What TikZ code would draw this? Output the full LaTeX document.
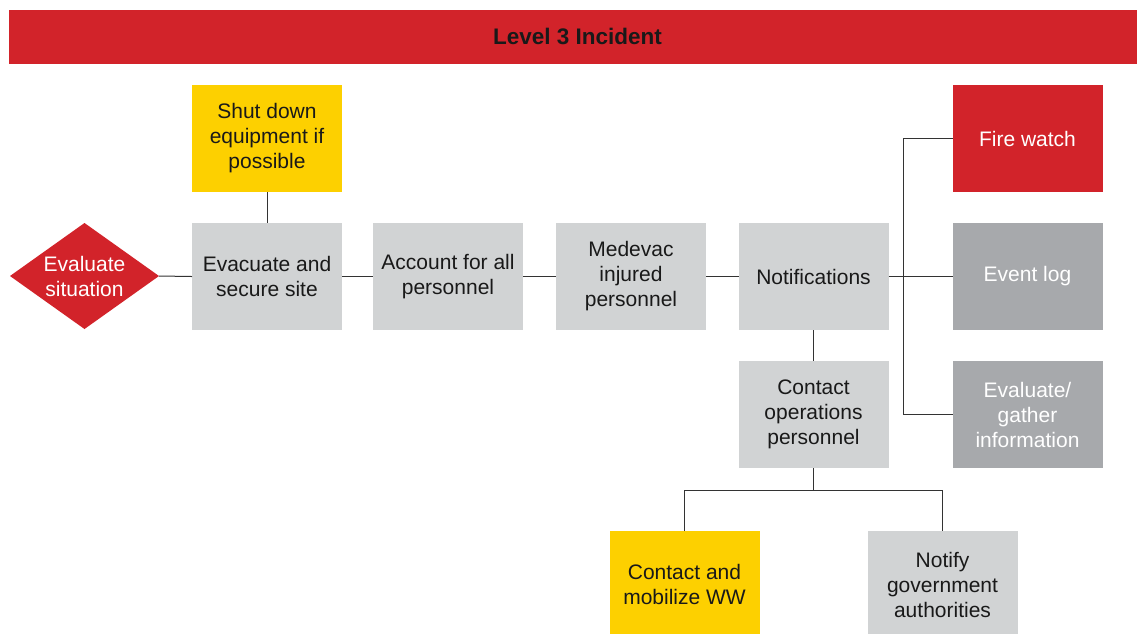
\documentclass[tikz,border=0pt]{standalone}
\usepackage{fontspec}
\setmainfont{Liberation Sans}
\usetikzlibrary{shapes.geometric}
\definecolor{incred}{RGB}{210,35,42}
\definecolor{incyellow}{RGB}{253,208,0}
\definecolor{lightbox}{RGB}{209,211,212}
\definecolor{darkbox}{RGB}{167,169,172}
\tikzset{
  stepbox/.style={rectangle, minimum width=150pt, minimum height=107pt, inner sep=0pt,
    outer sep=0pt, align=center, font=\fontsize{21}{25}\selectfont, text=black!90},
  graybox/.style={stepbox, fill=lightbox},
  yellowbox/.style={stepbox, fill=incyellow},
  redbox/.style={stepbox, fill=incred, text=white},
  darkgraybox/.style={stepbox, fill=darkbox, text=white},
  link/.style={draw=black!80, line width=1pt},
}
\begin{document}
\begin{tikzpicture}[x=1pt, y=-1pt]
\useasboundingbox (0,0) rectangle (1137,633);
\fill[white] (0,0) rectangle (1137,633);

% heading bar
\node[fill=incred, minimum width=1128pt, minimum height=54pt, inner sep=0pt] (title) at (573,37) {};
\node[font=\fontsize{22.5}{26}\selectfont\bfseries, text=black!90] (titletext) at (577.5,36) {Level 3 Incident};

% decision
\node[diamond, fill=incred, minimum width=149pt, minimum height=106pt, inner sep=0pt, outer sep=0pt] (eval) at (84.5,276) {};
\node[align=center, font=\fontsize{21}{25}\selectfont, text=white] (evaltext) at (eval.center) {Evaluate\\situation};

% main sequence
\node[yellowbox] (shut) at (267,138.5) {Shut down\\equipment if\\possible};
\node[graybox] (evac) at (267,276.5) {Evacuate and\\secure site};
\node[graybox] (acct) at (448,276.5) {Account for all\\personnel};
\node[graybox] (med) at (631,276.5) {Medevac\\injured\\personnel};
\node[graybox] (notif) at (813.5,276.5) {Notifications};

% notification branches
\node[redbox] (fire) at (1027.5,138.5) {Fire watch};
\node[darkgraybox] (event) at (1027.5,276.5) {Event log};
\node[darkgraybox] (evalg) at (1027.5,414.5) {Evaluate/\\gather\\information};
\node[graybox] (cops) at (813.5,414.5) {Contact\\operations\\personnel};

% contacts
\node[yellowbox] (mob) at (684.5,584.5) {Contact and\\mobilize WW};
\node[graybox] (gov) at (942.5,584.5) {Notify\\government\\authorities};

% connectors
\draw[link] (eval.east) -- (evac.west);
\draw[link] (evac.east) -- (acct.west);
\draw[link] (acct.east) -- (med.west);
\draw[link] (med.east) -- (notif.west);
\draw[link] (shut.south) -- (evac.north);
\draw[link] (notif.east) -- (event.west);
\coordinate (trunk) at (903,276.5);
\draw[link] (fire.west) -| (trunk) |- (evalg.west);
\draw[link] (notif.south) -- (cops.north);
\coordinate (split) at (813.5,490);
\draw[link] (cops.south) -- (split);
\draw[link] (mob.north) |- (split) -| (gov.north);
\end{tikzpicture}
\end{document}
